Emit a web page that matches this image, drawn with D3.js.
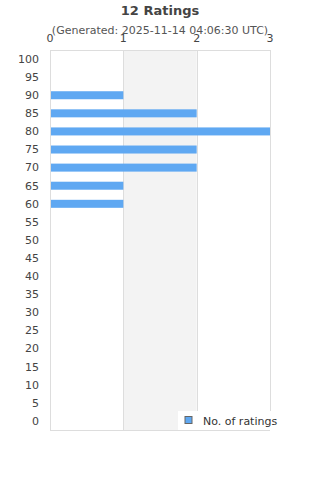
<!DOCTYPE html>
<html>
<head>
<meta charset="utf-8">
<script src="https://d3js.org/d3.v7.min.js"></script>
<style>
  body { margin: 0; background: #fff; }
  svg { font-family: "DejaVu Sans", sans-serif; }
</style>
</head>
<body>
<script>
// chart data
const titleText = "12 Ratings";
const subtitleText = "(Generated: 2025-11-14 04:06:30 UTC)";
const ratings = ["100","95","90","85","80","75","70","65","60","55","50","45","40","35","30","25","20","15","10","5","0"];
const counts  = [0, 0, 1, 2, 3, 2, 2, 1, 1, 0, 0, 0, 0, 0, 0, 0, 0, 0, 0, 0, 0];
const xTicks = [0, 1, 2, 3];
const seriesName = "No. of ratings";

const width = 320, height = 480;
const plotLeft = 50, plotRight = 270, plotTop = 50, plotBottom = 430;

const svg = d3.select("body").append("svg")
  .attr("width", width)
  .attr("height", height);

const x = d3.scaleLinear().domain([0, 3]).range([plotLeft, plotRight]);
const y = d3.scaleBand().domain(ratings).range([plotTop, plotBottom]);

// alternating band between 1 and 2
svg.append("rect")
  .attr("x", x(1)).attr("y", plotTop)
  .attr("width", x(2) - x(1)).attr("height", plotBottom - plotTop)
  .attr("fill", "#f3f3f3");

// vertical grid lines
svg.selectAll(".grid")
  .data(xTicks)
  .enter().append("line")
  .attr("x1", d => Math.round(x(d)) + 0.5).attr("x2", d => Math.round(x(d)) + 0.5)
  .attr("y1", plotTop).attr("y2", plotBottom)
  .attr("stroke", "#dddddd");

// frame top/bottom
svg.append("line").attr("x1", plotLeft).attr("x2", plotRight).attr("y1", plotTop + 0.5).attr("y2", plotTop + 0.5).attr("stroke", "#dddddd");
svg.append("line").attr("x1", plotLeft).attr("x2", plotRight).attr("y1", plotBottom + 0.5).attr("y2", plotBottom + 0.5).attr("stroke", "#dddddd");

// bars
const data = ratings.map((r, i) => ({ r: r, v: counts[i] }));
svg.selectAll(".bar")
  .data(data.filter(d => d.v > 0))
  .enter().append("rect")
  .attr("x", x(0) + 1)
  .attr("y", d => y(d.r) + y.bandwidth() / 2 - 4)
  .attr("width", d => x(d.v) - x(0) - 1)
  .attr("height", 8)
  .attr("fill", "#5fa8f2");

// y labels
svg.selectAll(".ylab")
  .data(ratings)
  .enter().append("text")
  .attr("x", 39)
  .attr("y", d => y(d) + y.bandwidth() / 2)
  .attr("dy", "0.35em")
  .attr("text-anchor", "end")
  .attr("font-size", 11)
  .attr("fill", "#444")
  .text(d => d);

// title
svg.append("text")
  .attr("x", 160).attr("y", 15)
  .attr("text-anchor", "middle")
  .attr("font-size", 13).attr("font-weight", "bold")
  .attr("fill", "#444")
  .text(titleText);

svg.append("text")
  .attr("x", 160).attr("y", 34)
  .attr("text-anchor", "middle")
  .attr("font-size", 11)
  .attr("fill", "#555")
  .text(subtitleText);

// x labels on top
svg.selectAll(".xlab")
  .data(xTicks)
  .enter().append("text")
  .attr("x", d => x(d))
  .attr("y", 42)
  .attr("text-anchor", "middle")
  .attr("font-size", 11)
  .attr("fill", "#444")
  .text(d => d);

// legend
const lg = svg.append("g").attr("transform", "translate(178,411)");
lg.append("rect").attr("width", 110).attr("height", 19).attr("fill", "#fff");
lg.append("rect").attr("x", 7).attr("y", 5.5).attr("width", 7).attr("height", 7)
  .attr("fill", "#5fa8f2").attr("stroke", "#666").attr("stroke-width", 1);
lg.append("text").attr("x", 25).attr("y", 13.5)
  .attr("font-size", 11).attr("fill", "#333")
  .text(seriesName);
</script>
</body>
</html>
